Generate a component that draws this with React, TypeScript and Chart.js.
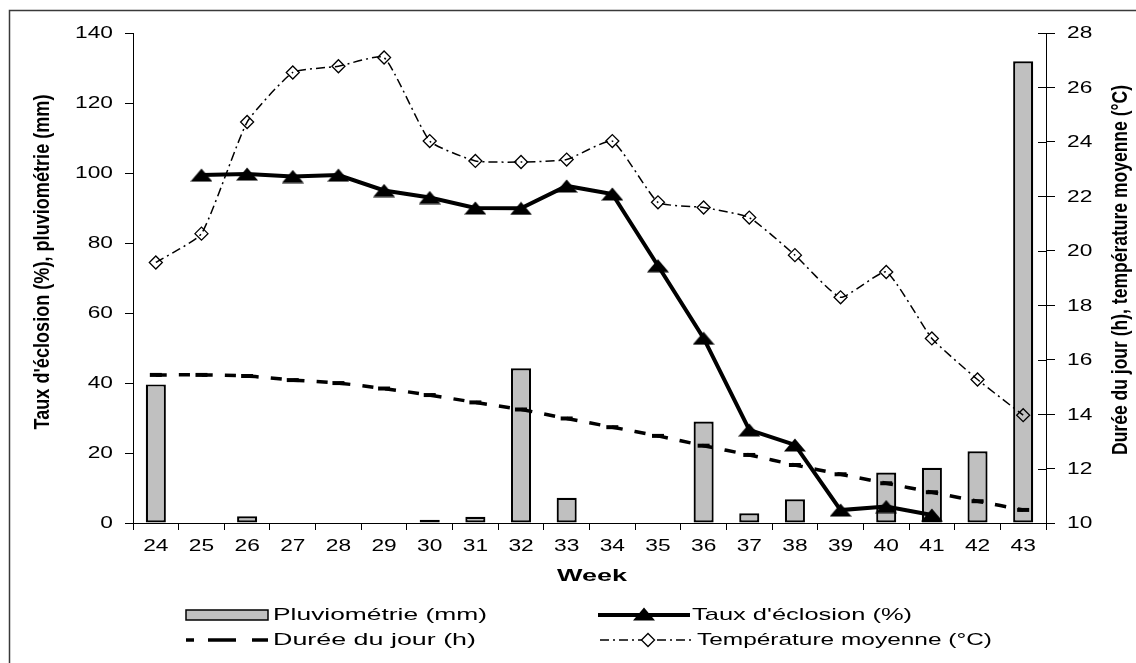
import React, { useEffect, useRef } from "react";
import { Chart, registerables } from "chart.js";

Chart.register(...registerables);

const weeks = ["24", "25", "26", "27", "28", "29", "30", "31", "32", "33", "34", "35", "36", "37", "38", "39", "40", "41", "42", "43"];
const pluviometrie = [39.6, 0, 1.9, 0, 0, 0, 0.9, 1.8, 44.2, 7.2, 0, 0, 29, 2.8, 6.8, 0, 14.4, 15.8, 20.5, 131.9];
const tauxEclosion = [null, 99.4, 99.7, 99, 99.4, 95, 93, 90, 89.9, 96.3, 94, 73.5, 52.8, 26.6, 22.3, 3.7, 4.7, 2.3, null, null];
const dureeJour = [15.44, 15.44, 15.4, 15.25, 15.14, 14.94, 14.7, 14.43, 14.17, 13.84, 13.52, 13.2, 12.84, 12.5, 12.13, 11.79, 11.46, 11.13, 10.8, 10.48];
const temperature = [19.57, 20.63, 24.73, 26.55, 26.78, 27.1, 24.03, 23.3, 23.26, 23.35, 24.03, 21.78, 21.59, 21.22, 19.84, 18.29, 19.22, 16.78, 15.27, 13.96];
const leftTicks = [0, 20, 40, 60, 80, 100, 120, 140];
const rightTicks = [10, 12, 14, 16, 18, 20, 22, 24, 26, 28];

const leftTitle = "Taux d'éclosion (%), pluviométrie (mm)";
const rightTitle = "Durée du jour (h), température moyenne (°C)";
const xTitle = "Week";
const legendPluv = "Pluviométrie (mm)";
const legendTaux = "Taux d'éclosion (%)";
const legendDuree = "Durée du jour (h)";
const legendTemp = "Température moyenne (°C)";

const FONT = '"Liberation Sans", Arial, sans-serif';

function makeTriangle(): HTMLCanvasElement {
  const c = document.createElement("canvas");
  c.width = 22;
  c.height = 14;
  const g = c.getContext("2d")!;
  g.fillStyle = "#000";
  g.beginPath();
  g.moveTo(0, 13.5);
  g.lineTo(11, 0.5);
  g.lineTo(22, 13.5);
  g.closePath();
  g.fill();
  return c;
}

function stretched(ctx: CanvasRenderingContext2D, text: string, x: number, y: number, align: CanvasTextAlign, sx: number, font: string) {
  ctx.save();
  ctx.font = font;
  ctx.fillStyle = "#000";
  ctx.textAlign = align;
  ctx.textBaseline = "middle";
  ctx.translate(x, y);
  ctx.scale(sx, 1);
  ctx.fillText(text, 0, 0);
  ctx.restore();
}

function fitText(ctx: CanvasRenderingContext2D, text: string, font: string, x: number, y: number, target: number, rot: number, cross: number, align: CanvasTextAlign) {
  ctx.save();
  ctx.font = font;
  ctx.fillStyle = "#000";
  const w = ctx.measureText(text).width;
  ctx.translate(x, y);
  ctx.rotate(rot);
  ctx.scale(target / w, cross);
  ctx.textAlign = align;
  ctx.textBaseline = "middle";
  ctx.fillText(text, 0, 0);
  ctx.restore();
}

export default function App() {
  const ref = useRef<HTMLCanvasElement | null>(null);

  useEffect(() => {
    if (!ref.current) return;
    const tri = makeTriangle();

    const decor = {
      id: "decor",
      afterDraw(chart: any) {
        const ctx: CanvasRenderingContext2D = chart.ctx;
        const xs = chart.scales.x;
        const yl = chart.scales.y;
        const yr = chart.scales.y1;
        const area = chart.chartArea;

        // frame
        ctx.save();
        ctx.strokeStyle = "#3a3a3a";
        ctx.lineWidth = 1.5;
        ctx.beginPath();
        ctx.moveTo(9.5, 700);
        ctx.lineTo(9.5, 10.5);
        ctx.lineTo(1200, 10.5);
        ctx.stroke();
        ctx.restore();

        // inner part of right ticks
        ctx.save();
        ctx.strokeStyle = "#000";
        ctx.lineWidth = 1;
        rightTicks.forEach((v) => {
          const y = Math.round(yr.getPixelForValue(v)) + 0.5;
          ctx.beginPath();
          ctx.moveTo(area.right - 8, y);
          ctx.lineTo(area.right, y);
          ctx.stroke();
        });
        ctx.restore();

        const tickFont = `16px ${FONT}`;
        leftTicks.forEach((v) => {
          stretched(ctx, String(v), area.left - 20, yl.getPixelForValue(v) + 1, "right", 1.42, tickFont);
        });
        rightTicks.forEach((v) => {
          stretched(ctx, String(v), area.right + 21, yr.getPixelForValue(v) + 1, "left", 1.42, tickFont);
        });
        weeks.forEach((w, i) => {
          stretched(ctx, w, xs.getPixelForValue(i), area.bottom + 24, "center", 1.42, tickFont);
        });

        // axis titles
        fitText(ctx, leftTitle, `bold 17px ${FONT}`, 43, 262, 335, -Math.PI / 2, 1.25, "center");
        fitText(ctx, rightTitle, `bold 17px ${FONT}`, 1121, 270, 370, -Math.PI / 2, 1.25, "center");
        fitText(ctx, xTitle, `bold 17px ${FONT}`, 592, 576, 70, 0, 1, "center");

        // legend
        const r1 = 615;
        const r2 = 640;
        const legFont = `17px ${FONT}`;
        ctx.save();
        ctx.fillStyle = "#c0c0c0";
        ctx.strokeStyle = "#000";
        ctx.lineWidth = 1.5;
        ctx.fillRect(186, r1 - 5, 82, 10);
        ctx.strokeRect(186, r1 - 5, 82, 10);
        ctx.restore();
        fitText(ctx, legendPluv, legFont, 273, r1, 214, 0, 1, "left");

        ctx.save();
        ctx.strokeStyle = "#000";
        ctx.lineWidth = 4;
        ctx.beginPath();
        ctx.moveTo(598, r1);
        ctx.lineTo(690, r1);
        ctx.stroke();
        ctx.drawImage(tri, 644 - 11, r1 - 8);
        ctx.restore();
        fitText(ctx, legendTaux, legFont, 692, r1, 220, 0, 1, "left");

        ctx.save();
        ctx.strokeStyle = "#000";
        ctx.lineWidth = 3.5;
        [[186, 194], [208, 236], [252, 268]].forEach(([a, b]) => {
          ctx.beginPath();
          ctx.moveTo(a, r2);
          ctx.lineTo(b, r2);
          ctx.stroke();
        });
        ctx.restore();
        fitText(ctx, legendDuree, legFont, 273, r2, 203, 0, 1, "left");

        ctx.save();
        ctx.strokeStyle = "#000";
        ctx.lineWidth = 1.5;
        ctx.setLineDash([9, 4, 2, 4]);
        ctx.beginPath();
        ctx.moveTo(600, r2);
        ctx.lineTo(692, r2);
        ctx.stroke();
        ctx.setLineDash([]);
        ctx.fillStyle = "#fff";
        ctx.lineWidth = 1.3;
        ctx.beginPath();
        ctx.moveTo(648 - 6.5, r2);
        ctx.lineTo(648, r2 - 6.5);
        ctx.lineTo(648 + 6.5, r2);
        ctx.lineTo(648, r2 + 6.5);
        ctx.closePath();
        ctx.fill();
        ctx.stroke();
        ctx.restore();
        fitText(ctx, legendTemp, legFont, 697, r2, 295, 0, 1, "left");
      },
    };

    const chart = new Chart(ref.current, {
      type: "bar",
      data: {
        labels: weeks,
        datasets: [
          {
            type: "line",
            label: legendTaux,
            data: tauxEclosion,
            yAxisID: "y",
            borderColor: "#000",
            borderWidth: 4,
            tension: 0,
            pointStyle: tri as any,
            pointRadius: 8,
            spanGaps: false,
            order: 1,
          } as any,
          {
            type: "line",
            label: legendTemp,
            data: temperature,
            yAxisID: "y1",
            borderColor: "#000",
            borderWidth: 1.5,
            borderDash: [9, 4, 2, 4],
            tension: 0.15,
            pointStyle: "rectRot",
            pointRadius: 6.5,
            pointBorderWidth: 1.3,
            pointBorderColor: "#000",
            pointBackgroundColor: "rgba(255,255,255,0)",
            order: 2,
          } as any,
          {
            type: "line",
            label: legendDuree,
            data: dureeJour,
            yAxisID: "y1",
            borderColor: "#000",
            borderWidth: 3.5,
            borderDash: [11, 12],
            tension: 0.2,
            pointStyle: "line",
            pointRadius: 6,
            pointBorderWidth: 4,
            pointBorderColor: "#000",
            order: 3,
          } as any,
          {
            type: "bar",
            label: legendPluv,
            data: pluviometrie.map((v) => (v === 0 ? null : v)),
            yAxisID: "y",
            backgroundColor: "#c0c0c0",
            borderColor: "#000",
            borderWidth: 2.2,
            borderSkipped: false,
            barPercentage: 0.44,
            categoryPercentage: 1,
            order: 10,
          } as any,
        ],
      },
      options: {
        responsive: false,
        maintainAspectRatio: false,
        animation: false,
        layout: { padding: { top: 33, left: 0, right: 0, bottom: 0 } },
        plugins: { legend: { display: false }, tooltip: { enabled: false } },
        scales: {
          x: {
            type: "category",
            offset: true,
            grid: { offset: true, drawOnChartArea: false, drawTicks: true, tickLength: 7, color: "#000", lineWidth: 1 },
            border: { color: "#000", width: 1 },
            ticks: { display: false },
            afterFit: (s: any) => {
              s.height = 140;
            },
          },
          y: {
            position: "left",
            min: 0,
            max: 140,
            afterBuildTicks: (s: any) => {
              s.ticks = leftTicks.map((v) => ({ value: v }));
            },
            grid: { drawOnChartArea: false, drawTicks: true, tickLength: 8, color: "#000", lineWidth: 1 },
            border: { color: "#000", width: 1 },
            ticks: { display: false },
            afterFit: (s: any) => {
              s.width = 133;
            },
          },
          y1: {
            position: "right",
            min: 10,
            max: 28,
            afterBuildTicks: (s: any) => {
              s.ticks = rightTicks.map((v) => ({ value: v }));
            },
            grid: { drawOnChartArea: false, drawTicks: true, tickLength: 9, color: "#000", lineWidth: 1 },
            border: { color: "#000", width: 1 },
            ticks: { display: false },
            afterFit: (s: any) => {
              s.width = 90;
            },
          },
        },
      } as any,
      plugins: [decor],
    });

    return () => chart.destroy();
  }, []);

  return (
    <div style={{ position: "absolute", left: 0, top: 0, width: 1136, height: 663, background: "#fff" }}>
      <canvas ref={ref} width={1136} height={663} style={{ display: "block", width: 1136, height: 663 }} />
    </div>
  );
}
